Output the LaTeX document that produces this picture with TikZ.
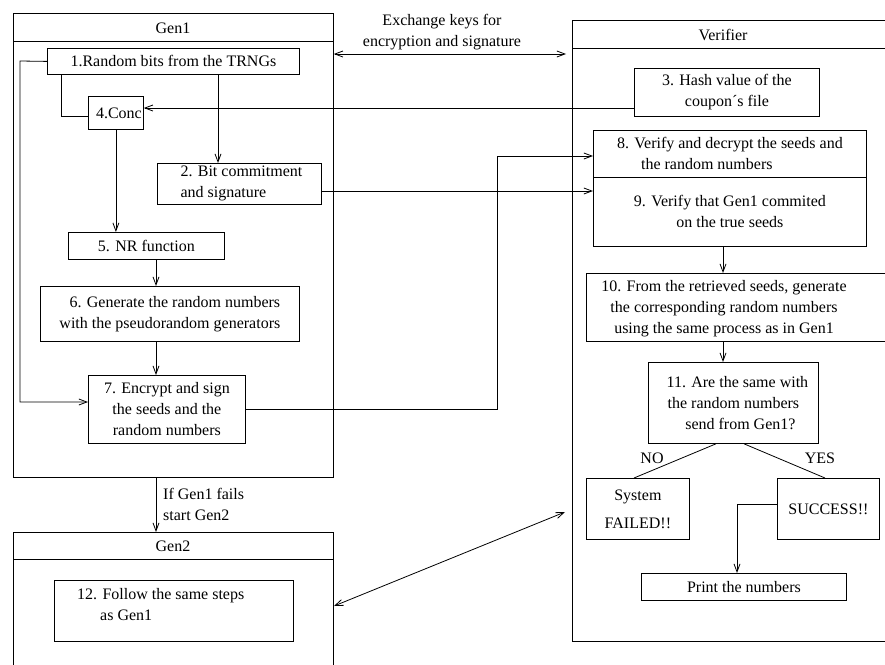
\documentclass[tikz,border=0pt]{standalone}
\usepackage{fontspec}
\setmainfont{Liberation Serif}
\usetikzlibrary{arrows.meta,calc}
\begin{document}
\begin{tikzpicture}[x=1pt,y=-1pt,
  every node/.style={font=\fontsize{16}{21}\selectfont},
  box/.style={draw, line width=0.8pt, inner sep=0pt, anchor=north west, align=center},
  txt/.style={inner sep=0pt},
  ln/.style={line width=0.8pt},
  arr/.style={ln, -{Straight Barb[length=8pt,width=6pt]}},
  darr/.style={ln, {Straight Barb[length=8pt,width=6pt]}-{Straight Barb[length=8pt,width=6pt]}}]
\useasboundingbox (0,0) rectangle (885,664);
\clip (0,0) rectangle (885,664);

% containers
\node[box, minimum width=320pt, minimum height=464pt] (gen1) at (13,13) {};
\draw[ln] (13,41) -- (333,41);
\node[txt] (gen1t) at (173,28) {Gen1};

\node[box, minimum width=320pt, minimum height=150pt] (gen2) at (13,532) {};
\draw[ln] (13,559) -- (333,559);
\node[txt] (gen2t) at (173,546) {Gen2};

\node[box, minimum width=330pt, minimum height=621pt] (ver) at (572,20) {};
\draw[ln] (572,48) -- (902,48);
\node[txt] (vert) at (723,35) {Verifier};

\node[txt, align=center] (exl) at (442,32) {Exchange keys for\\encryption and signature};

% Gen1 boxes
\node[box, minimum width=252pt, minimum height=26pt] (b1) at (47,48) {1.Random bits from the TRNGs};
\node[box, minimum width=55pt, minimum height=33pt] (b4) at (88,96) {\hspace*{6pt}4.Conc};
\node[box, minimum width=164pt, minimum height=41pt, align=left] (b2) at (157,163) {\hspace*{4pt}2. Bit commitment\\\hspace*{4pt}and signature};
\node[box, minimum width=156pt, minimum height=27pt] (b5) at (68,232) {5. NR function};
\node[box, minimum width=259pt, minimum height=55pt] (b6) at (40,286) {\hspace*{10pt}6. Generate the random numbers\\with the pseudorandom generators};
\node[box, minimum width=157pt, minimum height=68pt] (b7) at (88,375) {7. Encrypt and sign\\the seeds and the\\random numbers};

% Gen2 box
\node[box, minimum width=239pt, minimum height=61pt] (b12) at (54,580) {};
\node[txt, align=left, anchor=west] (b12t) at (77,605) {12. Follow the same steps\\\hspace*{23pt}as Gen1};

% Verifier boxes
\node[box, minimum width=185pt, minimum height=48pt] (b3) at (634,68) {3. Hash value of the\\coupon´s file};
\node[box, minimum width=273pt, minimum height=47pt, align=left] (b8) at (593,130) {8. Verify and decrypt the seeds and\\\hspace*{24pt}the random numbers};
\node[box, minimum width=273pt, minimum height=69pt] (b9) at (593,177) {9. Verify that Gen1 commited\\on the true seeds};
\node[box, minimum width=320pt, minimum height=68pt] (b10) at (586,273) {};
\node[txt, align=center] (b10t) at (724,309) {10. From the retrieved seeds, generate\\the corresponding random numbers\\using the same process as in Gen1};
\node[box, minimum width=170pt, minimum height=81pt] (b11) at (648,362) {\hspace*{8pt}11. Are the same with\\the random numbers\\\hspace*{14pt}send from Gen1?};
\node[box, minimum width=103pt, minimum height=61pt] (sys) at (586,478) {System\\[7pt]FAILED!!};
\node[box, minimum width=102pt, minimum height=61pt] (succ) at (777,478) {SUCCESS!!};
\node[box, minimum width=205pt, minimum height=27pt] (print) at (641,573) {Print the numbers};

\node[txt] (no) at (652,458) {NO};
\node[txt] (yes) at (820,458) {YES};
\node[txt, align=left, anchor=west] (fail) at (163,504) {If Gen1 fails\\start Gen2};

% coordinates
\coordinate (c1) at (20,61);
\coordinate (c2) at (20,402);
\coordinate (c3) at (61,116);
\coordinate (c4) at (0,108);
\coordinate (c5) at (218,0);
\coordinate (c6) at (0,191);
\coordinate (c7) at (156,0);
\coordinate (c8) at (497,409);
\coordinate (c9) at (497,156);
\coordinate (c10) at (723,0);
\coordinate (c11) at (716,0);
\coordinate (c12) at (744,0);
\coordinate (c13) at (634,0);
\coordinate (c14) at (825,0);
\coordinate (c15) at (737,504);
\coordinate (ex) at (566,54);
\coordinate (gv1) at (334,606);
\coordinate (gv2) at (565,512);

% connectors
\draw[darr] (gen1.east |- ex) -- (ex);
\draw[arr] (b1.west) -- (c1) -- (c2) -- (b7.west |- c2);
\draw[ln] (b1.south -| c3) -- (c3) -- (b4.west |- c3);
\draw[arr] (b3.west |- c4) -- (b4.east |- c4);
\draw[arr] (b1.south -| c5) -- (b2.north -| c5);
\draw[arr] (b2.east |- c6) -- (b9.west |- c6);
\draw[arr] (b4.south) -- (b5.north -| b4.south);
\draw[arr] (b5.south -| c7) -- (b6.north -| c7);
\draw[arr] (b6.south -| c7) -- (b7.north -| c7);
\draw[arr] (b7.east |- c8) -- (c8) -- (c9) -- (b8.west |- c9);
\draw[arr] (b9.south -| c10) -- (b10.north -| c10);
\draw[arr] (b10.south -| c10) -- (b11.north -| c10);
\draw[ln] (b11.south -| c11) -- (sys.north -| c13);
\draw[ln] (b11.south -| c12) -- (succ.north -| c14);
\draw[arr] (succ.west |- c15) -- (c15) -- (print.north -| c15);
\draw[arr] (gen1.south -| c7) -- (gen2.north -| c7);
\draw[darr] (gv1) -- (gv2);
\end{tikzpicture}
\end{document}
